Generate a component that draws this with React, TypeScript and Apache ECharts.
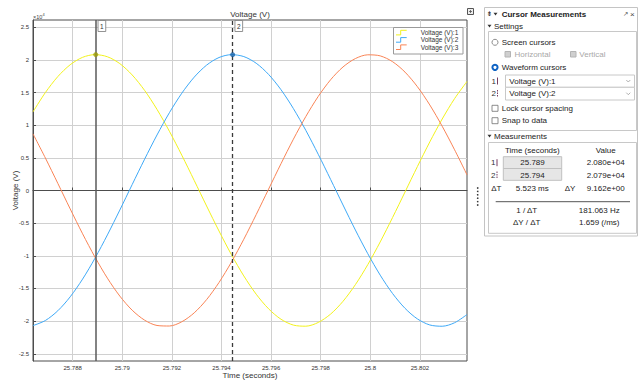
import React, { useEffect, useRef } from "react";
import * as echarts from "echarts";

// ---- data ----
const times = [
  25.7864, 25.7869, 25.7874, 25.7879, 25.7884, 25.7889, 25.7894, 25.7899, 25.7904, 25.7909,
  25.7914, 25.7919, 25.7924, 25.7929, 25.7934, 25.7939, 25.7944, 25.7949, 25.7954, 25.7959,
  25.7964, 25.7969, 25.7974, 25.7979, 25.7984, 25.7989, 25.7994, 25.7999, 25.8004, 25.8009,
  25.8014, 25.8019, 25.8024, 25.8029, 25.8034, 25.8039,
];
const voltage1 = [
  12035, 14999, 17435, 19252, 20386, 20799, 20474, 19425, 17686, 15324, 12416, 9069, 5400, 1542,
  -2373, -6202, -9813, -13077, -15875, -18113, -19708, -20605, -20772, -20203, -18920, -16964,
  -14407, -11344, -7876, -4129, -236, 3666, 7437, 10945, 14069, 16688,
];
const voltage2 = [
  -20681, -19900, -18412, -16274, -13560, -10363, -6800, -2995, 915, 4792, 8499, 11908, 14891,
  17349, 19192, 20355, 20796, 20503, 19481, 17769, 15427, 12540, 9210, 5552, 1697, -2217, -6055,
  -9676, -12956, -15775, -18034, -19656, -20584, -20779, -20241, -18984,
];
const voltage3 = [
  8665, 4969, 1096, -2816, -6629, -10204, -13420, -16160, -18327, -19847, -20661, -20744, -20093,
  -18730, -16702, -14084, -10966, -7461, -3690, 211, 4104, 7852, 11321, 14392, 16952, 18909,
  20199, 20771, 20609, 19716, 18125, 15891, 13096, 9836, 6228, 2398,
];
const seriesNames = ["Voltage (V):1", "Voltage (V):2", "Voltage (V):3"];
const seriesColors = ["#f2f21c", "#3ea9f7", "#f98456"];
const xTicks = [25.788, 25.79, 25.792, 25.794, 25.796, 25.798, 25.8, 25.802];
const yTicks = [-25000, -20000, -15000, -10000, -5000, 0, 5000, 10000, 15000, 20000, 25000];
const xRange = [25.7864, 25.8039];
const yRange = [-26100, 26100];
const cursorTimes = [25.78893, 25.79445];
const cursorValues = [20800, 20790];
const cursorLabels = ["1", "2"];
const measureTimes = ["25.789", "25.794"];
const measureValues = ["2.080e+04", "2.079e+04"];
const deltaT = "5.523 ms";
const deltaY = "9.162e+00";
const invDeltaT = "181.063 Hz";
const slope = "1.659 (/ms)";

const FONT = "Liberation Sans";

const txt = (x: number, y: number, text: string, o: any = {}) => ({
  type: "text",
  x,
  y,
  z: 100,
  silent: true,
  style: {
    text,
    fill: o.fill || "#222222",
    fontSize: o.size || 8,
    fontFamily: o.family || FONT,
    fontWeight: o.weight || "normal",
    align: o.align || "left",
    verticalAlign: "middle",
  },
});
const rect = (x: number, y: number, w: number, h: number, stroke: string, fill: string, lw = 1) => ({
  type: "rect",
  z: 100,
  silent: true,
  shape: { x, y, width: w, height: h },
  style: { stroke, fill, lineWidth: lw },
});
const line = (x1: number, y1: number, x2: number, y2: number, stroke: string, lw = 1, dash?: number[]) => ({
  type: "line",
  z: 100,
  silent: true,
  shape: { x1, y1, x2, y2 },
  style: { stroke, lineWidth: lw, lineDash: dash },
});
const tri = (x: number, y: number) => ({
  type: "polygon",
  z: 100,
  silent: true,
  shape: { points: [[x - 2, y - 1.3], [x + 2, y - 1.3], [x, y + 1.6]] },
  style: { fill: "#333333" },
});
const chevron = (x: number, y: number) => ({
  type: "polyline",
  z: 100,
  silent: true,
  shape: { points: [[x - 2, y - 1], [x, y + 1], [x + 2, y - 1]] },
  style: { stroke: "#9a9a9a", lineWidth: 0.8, fill: null },
});

function buildStaticGraphics() {
  const g: any[] = [];
  // x10^4 multiplier
  g.push(txt(33, 16.5, "×10", { size: 5.5, fill: "#444" }));
  g.push(txt(42.5, 14.5, "4", { size: 4, fill: "#444" }));
  // legend
  g.push(rect(393.5, 27.5, 69.5, 26.5, "#9a9a9a", "#ffffff"));
  seriesNames.forEach((name, i) => {
    const y = 32.6 + i * 7.3;
    g.push({
      type: "polyline",
      z: 101,
      silent: true,
      shape: { points: [[396, y + 2.3], [400.7, y + 2.3], [400.7, y - 2.3], [406.7, y - 2.3]] },
      style: { stroke: seriesColors[i], lineWidth: 1, fill: null },
    });
    g.push({ ...txt(420.7, y, name, { size: 6.5, fill: "#333" }), z: 101 });
  });
  // small undock icon
  g.push(rect(467.5, 8.5, 6, 6, "#555555", "#eeeeee"));
  g.push(line(469, 11.5, 472, 11.5, "#555555", 0.8));
  g.push(line(470.5, 10, 470.5, 13, "#555555", 0.8));
  // dotted handle
  for (let i = 0; i < 6; i++) g.push({ type: "circle", z: 100, silent: true, shape: { cx: 477.7, cy: 188 + i * 3.4, r: 0.8 }, style: { fill: "#333" } });

  // ---- Cursor Measurements panel ----
  g.push(rect(484.5, 7.5, 153, 228.5, "#c4c4c4", "#ffffff"));
  g.push(txt(486.5, 14, "⇟", { size: 7, family: "DejaVu Sans", fill: "#333" }));
  g.push(tri(495.5, 14));
  g.push(txt(501.7, 14, "Cursor Measurements", { weight: "bold" }));
  g.push(txt(623, 14, "↗", { size: 6.5, family: "DejaVu Sans", fill: "#444" }));
  g.push(txt(630, 14, "×", { size: 8, fill: "#444" }));
  g.push(tri(489.5, 26));
  g.push(txt(494, 26, "Settings"));
  g.push(rect(488.5, 31.5, 148, 99, "#c8c8c8", "#ffffff"));
  // screen cursors radio
  g.push({ type: "circle", z: 100, silent: true, shape: { cx: 495, cy: 42.3, r: 3 }, style: { stroke: "#707070", fill: "#fff", lineWidth: 0.8 } });
  g.push(txt(501.7, 42.3, "Screen cursors"));
  g.push(rect(505, 51.5, 5.5, 5.5, "#b4b4b4", "#cfcfcf"));
  g.push(txt(514.5, 54.3, "Horizontal", { fill: "#a8a8a8" }));
  g.push(rect(570.5, 51.5, 5.5, 5.5, "#b4b4b4", "#cfcfcf"));
  g.push(txt(579.3, 54.3, "Vertical", { fill: "#a8a8a8" }));
  // waveform cursors radio
  g.push({ type: "circle", z: 100, silent: true, shape: { cx: 495, cy: 67.3, r: 2.6 }, style: { stroke: "#0f63c4", fill: "#fff", lineWidth: 2 } });
  g.push(txt(501.7, 67.3, "Waveform cursors"));
  // dropdowns
  g.push(txt(491.5, 81, "1", { fill: "#333" }));
  g.push(line(497.5, 77.5, 497.5, 84.5, "#7a3d60", 1));
  g.push(rect(505.5, 75, 129, 12.3, "#c8c8c8", "#ffffff"));
  g.push(txt(509.3, 81.2, "Voltage (V):1"));
  g.push(chevron(628.3, 81));
  g.push(txt(491.5, 93.7, "2", { fill: "#333" }));
  g.push(line(497.5, 90, 497.5, 97.5, "#7a3d60", 1, [1.5, 1]));
  g.push(rect(505.5, 87.3, 129, 12.7, "#c8c8c8", "#ffffff"));
  g.push(txt(509.3, 93.7, "Voltage (V):2"));
  g.push(chevron(628.3, 93.7));
  // checkboxes
  g.push(rect(492, 105.3, 6, 6, "#707070", "#ffffff", 0.8));
  g.push(txt(501.7, 108.3, "Lock cursor spacing"));
  g.push(rect(492, 117.7, 6, 6, "#707070", "#ffffff", 0.8));
  g.push(txt(501.7, 120.7, "Snap to data"));
  // measurements
  g.push(tri(489.5, 136));
  g.push(txt(494, 136, "Measurements"));
  g.push(rect(488.5, 142.5, 148, 90.8, "#c8c8c8", "#ffffff"));
  g.push(txt(532.3, 150, "Time (seconds)", { align: "center" }));
  g.push(txt(605.7, 150, "Value", { align: "center" }));
  const rowY = [162.7, 175];
  const boxTop = [156.7, 168.5];
  measureTimes.forEach((mt, i) => {
    g.push(txt(491, rowY[i], cursorLabels[i], { fill: "#333" }));
    g.push(line(497, rowY[i] - 3.5, 497, rowY[i] + 3.5, "#7a3d60", 1, i === 0 ? undefined : [1.5, 1]));
    g.push(rect(503.3, boxTop[i], 58.4, 11.8, "#c0c0c0", "#e6e6e6"));
    g.push(txt(532.5, rowY[i], mt, { align: "center" }));
    g.push(txt(605.7, rowY[i], measureValues[i], { align: "center" }));
  });
  g.push(txt(491.2, 188.3, "ΔT"));
  g.push(txt(532.3, 188.3, deltaT, { align: "center" }));
  g.push(txt(570, 188.3, "ΔY", { align: "center" }));
  g.push(txt(605.7, 188.3, deltaY, { align: "center" }));
  g.push(line(495.7, 201.7, 630, 201.7, "#555555", 1));
  g.push(txt(526.7, 210.7, "1 / ΔT", { align: "center" }));
  g.push(txt(599.3, 210.7, invDeltaT, { align: "center" }));
  g.push(txt(526.7, 222.7, "ΔY / ΔT", { align: "center" }));
  g.push(txt(599.3, 222.7, slope, { align: "center" }));
  return g;
}

export default function App() {
  const ref = useRef<HTMLDivElement>(null);
  useEffect(() => {
    const el = ref.current!;
    const chart = echarts.init(el, null, { renderer: "svg" });
    const seriesData = [voltage1, voltage2, voltage3];
    const axisColor = "#4d4d4d";
    const staticGraphics = buildStaticGraphics();
    const option: any = {
      animation: false,
      backgroundColor: "#ffffff",
      textStyle: { fontFamily: FONT },
      title: {
        text: "Voltage (V)",
        left: 250,
        top: 10,
        textAlign: "center",
        padding: 0,
        textStyle: { fontSize: 8, fontWeight: "normal", color: "#333", fontFamily: FONT },
      },
      grid: {
        left: 33,
        right: 171,
        top: 20,
        bottom: 20,
        containLabel: false,
        outerBoundsMode: "none",
        show: true,
        borderColor: axisColor,
        borderWidth: 1,
        backgroundColor: "#ffffff",
      },
      xAxis: {
        type: "value",
        min: xRange[0],
        max: xRange[1],
        name: "Time (seconds)",
        nameLocation: "middle",
        nameGap: 10,
        nameMoveOverlap: false,
        nameTextStyle: { fontSize: 8, color: "#333", fontFamily: FONT },
        axisLine: { lineStyle: { color: axisColor } },
        axisTick: { show: true, inside: true, length: 3, customValues: xTicks, lineStyle: { color: axisColor } },
        axisLabel: { customValues: xTicks, fontSize: 6, color: "#333", margin: 4, formatter: (v: number) => String(v) },
        splitLine: { show: true, lineStyle: { color: "#d0d0d0", width: 1 } },
      },
      yAxis: {
        type: "value",
        min: yRange[0],
        max: yRange[1],
        name: "Voltage (V)",
        nameLocation: "middle",
        nameRotate: 90,
        nameGap: 14,
        nameMoveOverlap: false,
        nameTextStyle: { fontSize: 8, color: "#333", fontFamily: FONT },
        axisLine: { show: true, lineStyle: { color: axisColor } },
        axisTick: { show: true, inside: true, length: 3, customValues: yTicks, lineStyle: { color: axisColor } },
        axisLabel: { customValues: yTicks, fontSize: 6, color: "#333", margin: 4, formatter: (v: number) => String(v / 10000) },
        splitLine: { show: true, lineStyle: { color: "#d0d0d0", width: 1 } },
      },
      series: [
        ...seriesData.map((vals, i) => ({
          type: "line",
          name: seriesNames[i],
          data: times.map((t, k) => [t, vals[k]]),
          showSymbol: false,
          smooth: 0.3,
          lineStyle: { color: seriesColors[i], width: 1 },
          itemStyle: { color: seriesColors[i] },
          z: 3,
          markLine:
            i < 2
              ? {
                  silent: true,
                  symbol: "none",
                  precision: 8,
                  label: { show: false },
                  lineStyle: i === 0 ? { color: "#5a5a5a", width: 1.5, type: "solid" } : { color: "#3a3a3a", width: 1.3, type: [4, 3] },
                  data: [{ xAxis: cursorTimes[i] }],
                }
              : undefined,
        })),
        {
          type: "scatter",
          name: "cursors",
          data: cursorTimes.map((t, i) => ({
            value: [t, cursorValues[i]],
            itemStyle: { color: i === 0 ? "#9c9c0c" : "#1460a8" },
          })),
          symbolSize: 5,
          z: 10,
        },
      ],
      graphic: staticGraphics,
    };
    chart.setOption(option);
    const top = 20;
    const cursorGraphics: any[] = [];
    cursorTimes.forEach((t, i) => {
      const p = chart.convertToPixel({ gridIndex: 0 }, [t, 0]) as number[];
      const x = p[0];
      cursorGraphics.push({ ...rect(x + 2.3, top + 0.5, 7.7, 11, "#777777", "#ffffff", 0.8), id: "cb" + i });
      cursorGraphics.push({ ...txt(x + 6.15, top + 6.3, cursorLabels[i], { size: 6.5, align: "center", fill: "#333" }), id: "ct" + i });
    });
    chart.setOption({ graphic: [...staticGraphics, ...cursorGraphics] });
    return () => chart.dispose();
  }, []);
  return <div ref={ref} style={{ position: "fixed", left: 0, top: 0, width: 638, height: 381 }} />;
}
